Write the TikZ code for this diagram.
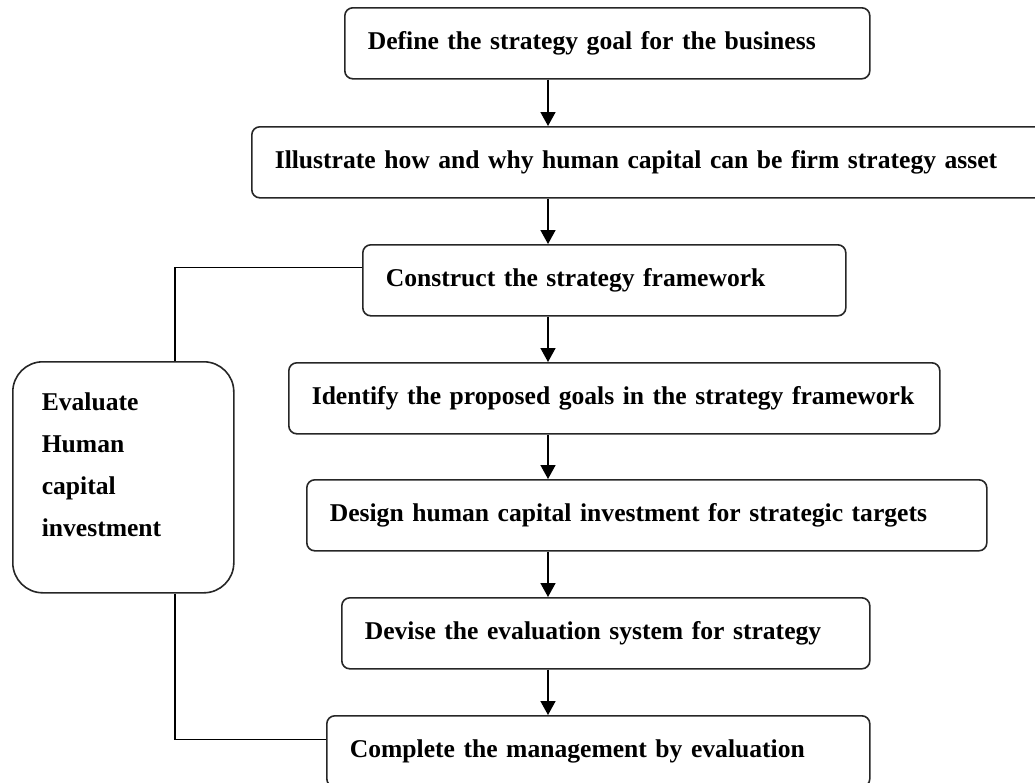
\documentclass[tikz,border=0pt]{standalone}
\usepackage{fontspec}
\setmainfont{Liberation Serif}
\usetikzlibrary{arrows.meta}
\begin{document}
\begin{tikzpicture}[x=1pt,y=-1pt,line width=1.6pt,font=\fontsize{25.6}{42}\selectfont\bfseries,
		stepbox/.style={draw=black!85,rounded corners=8pt,anchor=north west,align=left,
			inner xsep=23pt,inner ysep=0pt,minimum height=71pt},
		evalbox/.style={draw=black!85,rounded corners=30pt,anchor=north west,inner sep=0pt,
			minimum width=221pt,minimum height=231pt},
		arr/.style={-{Triangle[width=15pt,length=14pt]}}]
		\useasboundingbox (0,0) rectangle (1035,782);
		%% Steps
		\node[stepbox,text width=479pt] (b1) at (344,7) {Define the strategy goal for the business};
		\node[stepbox,text width=780pt] (b2) at (251,126) {Illustrate how and why human capital can be firm strategy asset};
		\node[stepbox,text width=437pt] (b3) at (362,244) {Construct the strategy framework};
		\node[stepbox,text width=605pt] (b4) at (288,362) {Identify the proposed goals in the strategy framework};
		\node[stepbox,text width=634pt] (b5) at (306,479) {Design human capital investment for strategic targets};
		\node[stepbox,text width=482pt] (b6) at (341,597) {Devise the evaluation system for strategy};
		\node[stepbox,text width=497pt] (b7) at (326,715) {Complete the management by evaluation};
		%% Evaluation
		\node[evalbox] (eval) at (12,361) {};
		\node[align=left,anchor=west,inner sep=0pt] (evaltxt) at (41,465) {Evaluate\\Human\\capital\\investment};
		%% Arrows
		\coordinate (ax) at (548,0);
		\foreach \a/\b in {b1/b2,b2/b3,b3/b4,b4/b5,b5/b6,b6/b7}
			\draw[arr] (\a.south -| ax) -- (\b.north -| ax);
		%% Side lines
		\coordinate (lx) at (175,0);
		\draw[line width=1.3pt] ([yshift=13pt]b3.west) -| (eval.north -| lx);
		\draw[line width=1.3pt] (eval.south -| lx) |- ([yshift=12pt]b7.west);
	\end{tikzpicture}
\end{document}
